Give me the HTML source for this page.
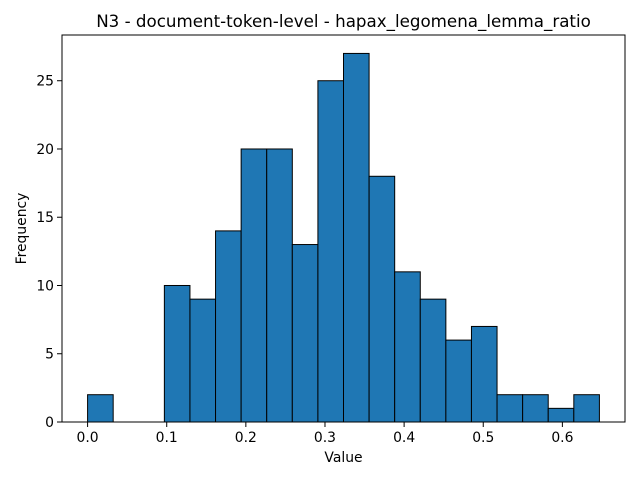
<!DOCTYPE html>
<html><head><meta charset="utf-8"><style>body{margin:0;background:#fff}svg{display:block;font-family:"DejaVu Sans","Liberation Sans",sans-serif}</style></head>
<body>
<svg id="c" width="640" height="480"></svg>
<script>
const counts=[2,0,0,10,9,14,20,20,13,25,27,18,11,9,6,7,2,2,1,2];
const dataMin=0, dataMax=0.6468;
const xTicks=[0.0,0.1,0.2,0.3,0.4,0.5,0.6];
const yTicks=[0,5,10,15,20,25];
const L=62,R=625,T=35,B=422;
const nb=counts.length, bw=(dataMax-dataMin)/nb;
const xlo=dataMin-(dataMax-dataMin)*0.05, xhi=dataMax+(dataMax-dataMin)*0.05;
const ymax=Math.max(...counts)*1.05;
const xs=v=>L+(v-xlo)/(xhi-xlo)*(R-L);
const ys=v=>B-v/ymax*(B-T);
const svg=document.getElementById('c');
const NS='http://www.w3.org/2000/svg';
function mk(t,a,txt){const e=document.createElementNS(NS,t);for(const k in a)e.setAttribute(k,a[k]);if(txt!==undefined)e.textContent=txt;svg.appendChild(e);return e;}
counts.forEach((c,i)=>{if(!c)return;const x0=xs(dataMin+i*bw),x1=xs(dataMin+(i+1)*bw);
const r=mk('rect',{x:x0,y:ys(c),width:x1-x0,height:ys(0)-ys(c),fill:'#1f77b4',stroke:'#000','stroke-width':1});

});
const f=mk('rect',{x:L,y:T,width:R-L,height:B-T,fill:'none',stroke:'#000','stroke-width':1});


xTicks.forEach(v=>{const x=xs(v);mk('line',{x1:x,x2:x,y1:B,y2:B+5,stroke:'#000'});
const t=mk('text',{x:x,y:B+20,'text-anchor':'middle','font-size':13.9},v.toFixed(1));

});
yTicks.forEach(v=>{const y=ys(v);mk('line',{x1:L-5,x2:L,y1:y,y2:y,stroke:'#000'});
const t=mk('text',{x:L-8,y:y+5,'text-anchor':'end','font-size':13.9},v);

});
const xl=mk('text',{x:(L+R)/2,y:462,'text-anchor':'middle','font-size':13.9},'Value');


const yl=mk('text',{x:26,y:(T+B)/2,'text-anchor':'middle','font-size':13.9,transform:`rotate(-90 26 ${(T+B)/2})`},'Frequency');


const ti=mk('text',{x:(L+R)/2,y:27,'text-anchor':'middle','font-size':16.7},'N3 - document-token-level - hapax_legomena_lemma_ratio');


</script>
</body></html>
